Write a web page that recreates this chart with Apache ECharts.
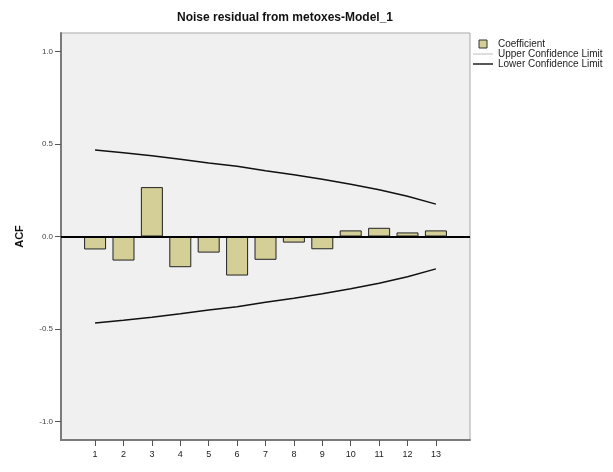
<!DOCTYPE html>
<html>
<head>
<meta charset="utf-8">
<script src="https://cdn.jsdelivr.net/npm/echarts@6/dist/echarts.min.js"></script>
<style>
  html, body { margin: 0; padding: 0; background: #fff; }
  #chart { width: 613px; height: 472px; }
</style>
</head>
<body>
<div id="chart"></div>
<script>
// Lag numbers and autocorrelation coefficients of the noise residual
const lags = [1, 2, 3, 4, 5, 6, 7, 8, 9, 10, 11, 12, 13];
const coefficient = [-0.070, -0.130, 0.267, -0.166, -0.087, -0.211, -0.126, -0.033, -0.069, 0.033, 0.047, 0.022, 0.033];
const upperLimit = [0.467, 0.453, 0.436, 0.417, 0.397, 0.380, 0.356, 0.334, 0.309, 0.282, 0.253, 0.218, 0.175];
const lowerLimit = [-0.467, -0.453, -0.436, -0.417, -0.397, -0.380, -0.356, -0.334, -0.309, -0.282, -0.253, -0.218, -0.175];
const yTicks = [-1.0, -0.5, 0.0, 0.5, 1.0];

const pair = (vals) => lags.map((l, i) => [l, vals[i]]);
const font = 'Liberation Sans, Arial, sans-serif';

const chart = echarts.init(document.getElementById('chart'));
chart.setOption({
  animation: false,
  backgroundColor: '#ffffff',
  title: {
    text: 'Noise residual from metoxes-Model_1',
    left: 280, textAlign: 'center', top: 7,
    textStyle: { fontFamily: font, fontSize: 12, fontWeight: 'bold', color: '#111' }
  },
  legend: {
    orient: 'vertical', left: 468, top: 34, itemGap: 0,
    itemWidth: 20, itemHeight: 8, symbolKeepAspect: true,
    textStyle: { fontFamily: font, fontSize: 10, lineHeight: 9, color: '#222' },
    data: [
      { name: 'Coefficient', icon: 'path://M0,0H10V10H0Z',
        itemStyle: { color: '#d3cf97', borderColor: '#333', borderWidth: 1 } },
      { name: 'Upper Confidence Limit', icon: 'path://M0,0H40V1H0Z',
        itemStyle: { color: '#777' } },
      { name: 'Lower Confidence Limit', icon: 'path://M0,0H20V1.4H0Z',
        itemStyle: { color: '#111' } }
    ]
  },
  grid: {
    left: 61, right: 143, top: 33, bottom: 32,
    show: true, backgroundColor: '#f0f0f0', borderColor: '#a8a8a8', borderWidth: 1
  },
  xAxis: {
    type: 'value', min: -0.2, max: 14.2,
    splitLine: { show: false },
    axisLine: { show: true, onZero: false, lineStyle: { color: '#7a7a7a', width: 2 } },
    axisTick: { show: true, length: 6, customValues: lags, lineStyle: { color: '#555' } },
    axisLabel: { customValues: lags, fontFamily: font, fontSize: 9, color: '#222', margin: 10 }
  },
  yAxis: {
    type: 'value', min: -1.1, max: 1.1,
    name: 'ACF', nameLocation: 'middle', nameGap: 36, nameRotate: 90,
    nameTextStyle: { fontFamily: font, fontSize: 11, fontWeight: 'bold', color: '#111' },
    splitLine: { show: false },
    axisLine: { show: true, onZero: false, lineStyle: { color: '#7a7a7a', width: 2 } },
    axisTick: { show: true, length: 6, customValues: yTicks, lineStyle: { color: '#555' } },
    axisLabel: {
      customValues: yTicks, fontFamily: font, fontSize: 8, color: '#444', margin: 8,
      formatter: (v) => v.toFixed(1)
    }
  },
  series: [
    {
      name: 'Coefficient', type: 'bar', data: pair(coefficient), barWidth: 22,
      itemStyle: { color: '#d3cf97', borderColor: '#222', borderWidth: 1 },
      markLine: {
        silent: true, symbol: 'none', label: { show: false },
        lineStyle: { color: '#000', width: 2, type: 'solid' },
        data: [{ yAxis: 0 }]
      }
    },
    {
      name: 'Upper Confidence Limit', type: 'line', data: pair(upperLimit),
      symbol: 'none', smooth: false,
      lineStyle: { color: '#111', width: 1.5 }, itemStyle: { color: '#111' }
    },
    {
      name: 'Lower Confidence Limit', type: 'line', data: pair(lowerLimit),
      symbol: 'none', smooth: false,
      lineStyle: { color: '#111', width: 1.5 }, itemStyle: { color: '#111' }
    }
  ]
});
</script>
</body>
</html>
